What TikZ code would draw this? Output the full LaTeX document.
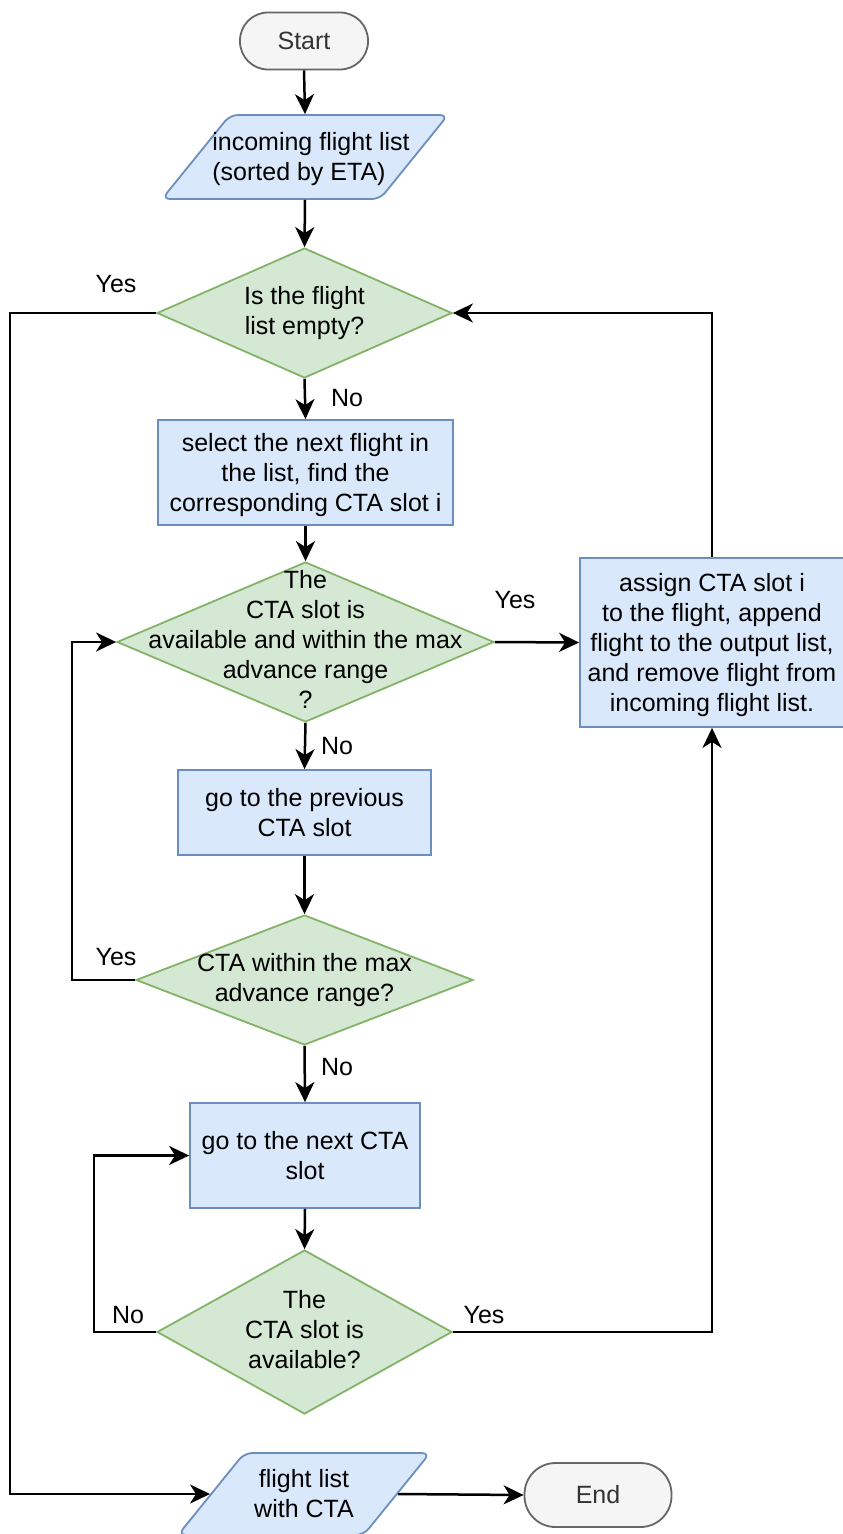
\documentclass[tikz,border=0pt]{standalone}
\usepackage{fontspec}
\setmainfont{Liberation Sans}[Ligatures=NoCommon]
\usetikzlibrary{shapes.geometric,arrows.meta}
\definecolor{termfill}{HTML}{F5F5F5}
\definecolor{termline}{HTML}{666666}
\definecolor{termtext}{HTML}{333333}
\definecolor{bluefill}{HTML}{DAE8FC}
\definecolor{blueline}{HTML}{6C8EBF}
\definecolor{greenfill}{HTML}{D5E8D4}
\definecolor{greenline}{HTML}{82B366}
\newcommand{\dtxt}[2][-7pt]{\makebox[0pt]{\smash{\raisebox{#1}{\begin{tabular}{@{}c@{}}#2\end{tabular}}}}}
\newcommand{\ltxt}[1]{\makebox[0pt]{\smash{\raisebox{-9pt}{\hspace{12pt}\begin{tabular}{@{}l@{}}#1\end{tabular}}}}}
\begin{document}
\begin{tikzpicture}[x=1pt,y=-1pt,
  every node/.style={font=\fontsize{25}{30}\selectfont, inner sep=0pt},
  termbox/.style={rectangle, fill=termfill, draw=termline, line width=1.8pt, text=termtext},
  iobox/.style={trapezium, trapezium left angle=51, trapezium right angle=129, trapezium stretches body, rounded corners=8pt, fill=bluefill, draw=blueline, line width=1.8pt},
  procbox/.style={rectangle, fill=bluefill, draw=blueline, line width=1.8pt},
  decbox/.style={diamond, fill=greenfill, draw=greenline, line width=1.8pt},
  arr/.style={-{Stealth[length=20pt,width=19pt,inset=6pt]}, line width=2.5pt},
  lbl/.style={text=black}]
\useasboundingbox[fill=white] (0,0) rectangle (843,1534);

\node[termbox, rounded corners=28pt, minimum width=128pt, minimum height=57pt] (start) at (304,41) {Start};
\node[iobox, text height=42pt, text depth=42pt, minimum width=286pt, minimum height=84pt] (in) at (305,157) {\ltxt{incoming flight list\\(sorted by ETA)}};
\node[decbox, minimum width=295pt, minimum height=130pt] (d1) at (304.5,313) {\dtxt{Is the flight\\list empty?}};
\node[procbox, minimum width=295pt, minimum height=105pt] (p1) at (305.5,472.5) {\dtxt[-9.5pt]{select the next flight in\\the list, find the\\corresponding CTA slot i}};
\node[decbox, minimum width=377pt, minimum height=160pt] (d2) at (305.5,642) {\dtxt{The\\CTA slot is\\available and within the max\\advance range\\?}};
\node[procbox, minimum width=264pt, minimum height=169pt] (p2) at (712,642.5) {\dtxt[-9.5pt]{assign CTA slot i\\to the flight, append\\flight to the output list,\\and remove flight from\\incoming flight list.}};
\node[procbox, minimum width=253pt, minimum height=85pt] (p3) at (304.5,812.5) {\dtxt[-9.5pt]{go to the previous\\CTA slot}};
\node[decbox, minimum width=337pt, minimum height=130pt] (d3) at (304.5,980) {\dtxt{CTA within the max\\advance range?}};
\node[procbox, minimum width=230pt, minimum height=105pt] (p4) at (305,1155.5) {\dtxt[-9.5pt]{go to the next CTA\\slot}};
\node[decbox, minimum width=295pt, minimum height=164pt] (d4) at (304.5,1332) {\dtxt{The\\CTA slot is\\available?}};
\node[iobox, text height=41pt, text depth=41pt, minimum width=252pt, minimum height=82pt] (out) at (304,1494) {\dtxt[-9pt]{flight list\\with CTA}};
\node[termbox, rounded corners=31pt, minimum width=147pt, minimum height=64pt] (end) at (598,1495) {End};

\node[lbl] (y1) at (116,284) {Yes};
\node[lbl] (n1) at (347,398) {No};
\node[lbl] (y2) at (515,600) {Yes};
\node[lbl] (n2) at (337,746) {No};
\node[lbl] (y3) at (116,957) {Yes};
\node[lbl] (n3) at (337,1067) {No};
\node[lbl] (n4) at (128,1315) {No};
\node[lbl] (y4) at (484,1315) {Yes};

\draw[arr] (start.south) -- (in.north);
\draw[arr] (in.south) -- (d1.north);
\draw[arr] (d1.south) -- (p1.north);
\draw[arr] (p1.south) -- (d2.north);
\draw[arr] (d2.east) -- (p2.west);
\draw[arr] (p2.north) |- (d1.east);
\draw[arr] (d2.south) -- (p3.north);
\draw[arr] (p3.south) -- (d3.north);
\draw[arr] (d3.west) -- ++(-63,0) |- (d2.west);
\draw[arr] (d3.south) -- (p4.north);
\draw[arr] (p4.south) -- (d4.north);
\draw[arr] (d4.west) -- ++(-62,0) |- (p4.west);
\draw[arr] (d4.east) -| (p2.south);
\draw[arr] (d1.west) -- ++(-146,0) |- (out.180);
\draw[arr] (out.0) -- (end.west);
\end{tikzpicture}
\end{document}
